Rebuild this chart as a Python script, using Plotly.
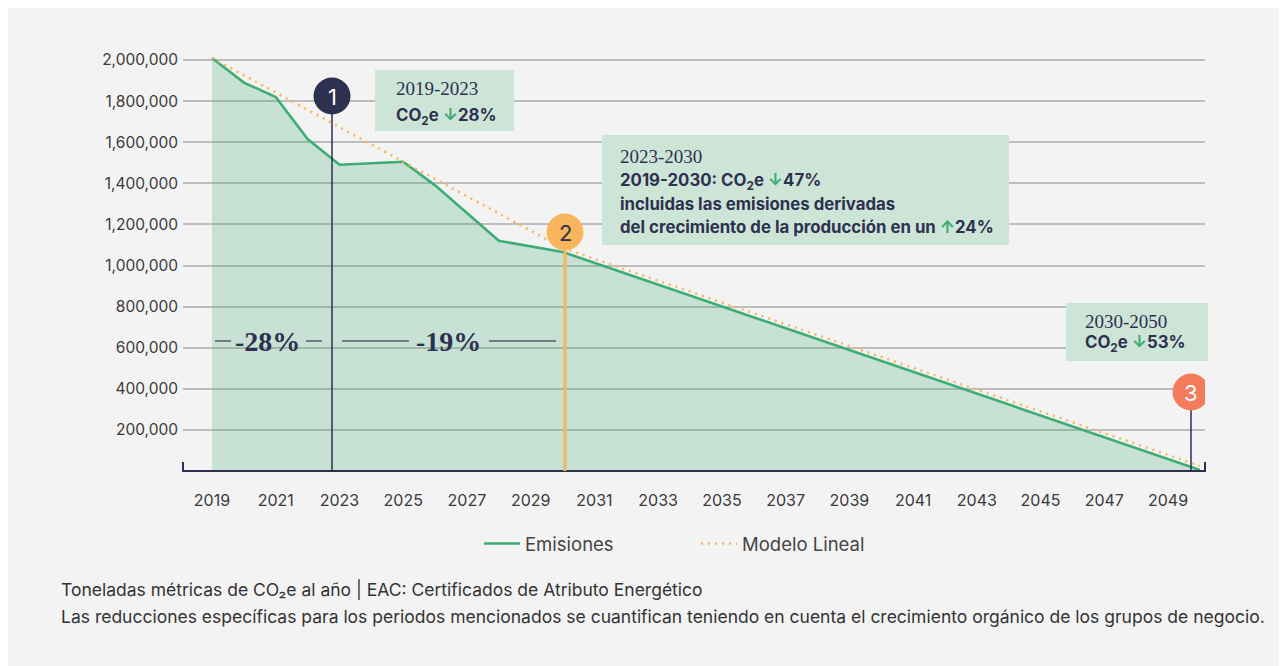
import plotly.graph_objects as go

# ---------------- data ----------------
years = [2019, 2020, 2021, 2022, 2023, 2025, 2026, 2028, 2030, 2050]
emisiones = [2010000, 1890000, 1820000, 1615000, 1490000, 1505000, 1390000, 1120000, 1066000, 5000]

modelo_years = [2019, 2030, 2050]
modelo_lineal = [2010000, 1085000, 25000]

x_tick_vals = [2019, 2021, 2023, 2025, 2027, 2029, 2031, 2033, 2035, 2037, 2039, 2041, 2043, 2045, 2047, 2049]
x_tick_text = ["2019", "2021", "2023", "2025", "2027", "2029", "2031", "2033", "2035", "2037", "2039",
               "2041", "2043", "2045", "2047", "2049"]
y_tick_vals = [200000, 400000, 600000, 800000, 1000000, 1200000, 1400000, 1600000, 1800000, 2000000]
y_tick_text = ["200,000", "400,000", "600,000", "800,000", "1,000,000", "1,200,000", "1,400,000",
               "1,600,000", "1,800,000", "2,000,000"]

# ---------------- layout geometry (window pixels) ----------------
OFF = 8                      # default page body margin
WIN_W, WIN_H = 1287, 666
W, H = WIN_W - OFF, WIN_H - OFF
L, R, T, B = 183, 1205, 40, 471
X_RANGE = [2018.09, 2050.16]
Y_RANGE = [0, 2097300]

NAVY = "#2e3050"
GREEN = "#3cad74"
ORANGE = "#f8b55b"
CORAL = "#f47c5c"
BOXFILL = "#cde5d7"
TXT = "#3a3a3a"
FONT = "Inter, Roboto, DejaVu Sans, sans-serif"
SERIF = "Liberation Serif, DejaVu Serif, serif"


def px_x(px):  # window pixel -> paper x
    return (px - L) / (R - L)


def px_y(py):  # window pixel -> paper y
    return (B - py) / (B - T)


def yr(px):  # window pixel -> data x
    return X_RANGE[0] + (px - L) / (R - L) * (X_RANGE[1] - X_RANGE[0])


def val(py):  # window pixel -> data y
    return Y_RANGE[0] + (B - py) / (B - T) * (Y_RANGE[1] - Y_RANGE[0])


fig = go.Figure()

fig.add_trace(go.Scatter(x=years, y=emisiones, mode="lines", fill="tozeroy",
                         fillcolor="rgba(60,173,116,0.24)", line=dict(width=0),
                         showlegend=False, hoverinfo="skip"))
fig.add_trace(go.Scatter(x=years, y=emisiones, mode="lines", name="Emisiones",
                         line=dict(color=GREEN, width=2.6)))
fig.add_trace(go.Scatter(x=modelo_years, y=modelo_lineal, mode="lines", name="Modelo Lineal",
                         line=dict(color=ORANGE, width=2.5, dash="2px,5px")))

shapes = []
# grey page panel
shapes.append(dict(type="rect", xref="paper", yref="paper", x0=px_x(0), x1=px_x(1400),
                   y0=px_y(800), y1=px_y(5), fillcolor="#f3f3f3", line=dict(width=0), layer="below"))

# x axis line with end caps
shapes.append(dict(type="path", xref="paper", yref="paper",
                   path=f"M {px_x(L)},{px_y(462)} L {px_x(L)},{px_y(B)} L {px_x(R)},{px_y(B)} L {px_x(R)},{px_y(462)}",
                   line=dict(color=NAVY, width=2)))

# vertical marker lines
shapes.append(dict(type="line", xref="x", yref="y", x0=yr(332), x1=yr(332), y0=0, y1=val(112),
                   line=dict(color=NAVY, width=1.5)))
shapes.append(dict(type="line", xref="x", yref="y", x0=yr(565), x1=yr(565), y0=0, y1=val(248),
                   line=dict(color=ORANGE, width=3)))
shapes.append(dict(type="line", xref="x", yref="y", x0=yr(1191), x1=yr(1191), y0=0, y1=val(408),
                   line=dict(color=NAVY, width=1.5)))

# numbered circles
circles = [(332, 96, NAVY, "1", "white"), (565, 232, ORANGE, "2", NAVY), (1191, 392, CORAL, "3", "white")]
for cx, cy, col, lab, tcol in circles:
    shapes.append(dict(type="circle", xref="x", yref="y", xsizemode="pixel", ysizemode="pixel",
                       xanchor=yr(cx), yanchor=val(cy), x0=-18.5, x1=18.5, y0=-18.5, y1=18.5,
                       fillcolor=col, line=dict(width=0)))

# callout boxes
boxes = [(375, 70, 514, 131), (602, 135, 1009, 245), (1066, 303, 1208, 361)]
for x0, y0, x1, y1 in boxes:
    shapes.append(dict(type="rect", xref="paper", yref="paper", x0=px_x(x0), x1=px_x(x1),
                       y0=px_y(y1), y1=px_y(y0), fillcolor=BOXFILL, line=dict(width=0)))

# dash lines around percentage labels
for a, b in [(215, 231), (306, 322), (342, 409), (489, 556)]:
    shapes.append(dict(type="line", xref="paper", yref="paper", x0=px_x(a), x1=px_x(b),
                       y0=px_y(341), y1=px_y(341), line=dict(color="#737a87", width=2)))

annotations = []
for cx, cy, col, lab, tcol in circles:
    annotations.append(dict(x=yr(cx), y=val(cy + 0.5), xref="x", yref="y", text=lab, showarrow=False,
                            font=dict(family=FONT, size=22, color=tcol), xanchor="center", yanchor="middle"))

DOWN = '<span style="color:#3cad74">↓</span>'
UP = '<span style="color:#3cad74">↑</span>'


def txt(px, py, text, size, family, bold=False):
    t = f"<b>{text}</b>" if bold else text
    annotations.append(dict(x=px_x(px), y=px_y(py), xref="paper", yref="paper", text=t, showarrow=False,
                            font=dict(family=family, size=size, color=NAVY),
                            xanchor="left", yanchor="middle"))


txt(394, 89, "2019-2023", 19, SERIF)
txt(394, 116, f"CO<sub>2</sub>e {DOWN}28%", 16.8, FONT, True)

txt(618, 156, "2023-2030", 19, SERIF)
txt(618, 181, f"2019-2030: CO<sub>2</sub>e {DOWN}47%", 16.8, FONT, True)
txt(618, 204, "incluidas las emisiones derivadas", 16.8, FONT, True)
txt(618, 227, f"del crecimiento de la producción en un {UP}24%", 16.8, FONT, True)

txt(1083, 321, "2030-2050", 19, SERIF)
txt(1083, 343, f"CO<sub>2</sub>e {DOWN}53%", 16.8, FONT, True)

# percentage labels
for cx, lab in [(267.5, "-28%"), (448, "-19%")]:
    annotations.append(dict(x=px_x(cx), y=px_y(341), xref="paper", yref="paper", text=f"<b>{lab}</b>",
                            showarrow=False, font=dict(family=SERIF, size=28, color=NAVY),
                            xanchor="center", yanchor="middle"))

# footer notes
annotations.append(dict(x=px_x(59), y=px_y(589), xref="paper", yref="paper",
                        text="Toneladas métricas de CO₂e al año | EAC: Certificados de Atributo Energético",
                        showarrow=False, font=dict(family=FONT, size=17.5, color="#333333"),
                        xanchor="left", yanchor="middle"))
annotations.append(dict(x=px_x(59), y=px_y(616), xref="paper", yref="paper",
                        text="Las reducciones específicas para los periodos mencionados se cuantifican teniendo en cuenta el crecimiento orgánico de los grupos de negocio.",
                        showarrow=False, font=dict(family=FONT, size=17.5, color="#333333"),
                        xanchor="left", yanchor="middle"))

fig.update_layout(
    width=W, height=H,
    margin=dict(l=L - OFF, r=WIN_W - R, t=T - OFF, b=WIN_H - B, pad=0),
    paper_bgcolor="white",
    plot_bgcolor="#f3f3f3",
    font=dict(family=FONT, color=TXT),
    shapes=shapes,
    annotations=annotations,
    showlegend=True,
    legend=dict(orientation="h", x=px_x(479), xanchor="left", y=px_y(544), yanchor="middle",
                font=dict(family=FONT, size=18.5, color="#444444"), bgcolor="rgba(0,0,0,0)",
                entrywidth=166, entrywidthmode="pixels", itemwidth=36),
    xaxis=dict(range=X_RANGE, tickmode="array", tickvals=x_tick_vals, ticktext=x_tick_text,
               showgrid=False, zeroline=False, showline=False, ticks="",
               tickfont=dict(family=FONT, size=16, color=TXT), ticklabelstandoff=18, fixedrange=True),
    yaxis=dict(range=Y_RANGE, tickmode="array", tickvals=y_tick_vals, ticktext=y_tick_text,
               showgrid=True, gridcolor="#bdbdbd", gridwidth=1.5, zeroline=False, showline=False,
               ticks="", tickfont=dict(family=FONT, size=15.5, color=TXT), ticklabelstandoff=4,
               fixedrange=True),
)

fig.write_html("out.html")
